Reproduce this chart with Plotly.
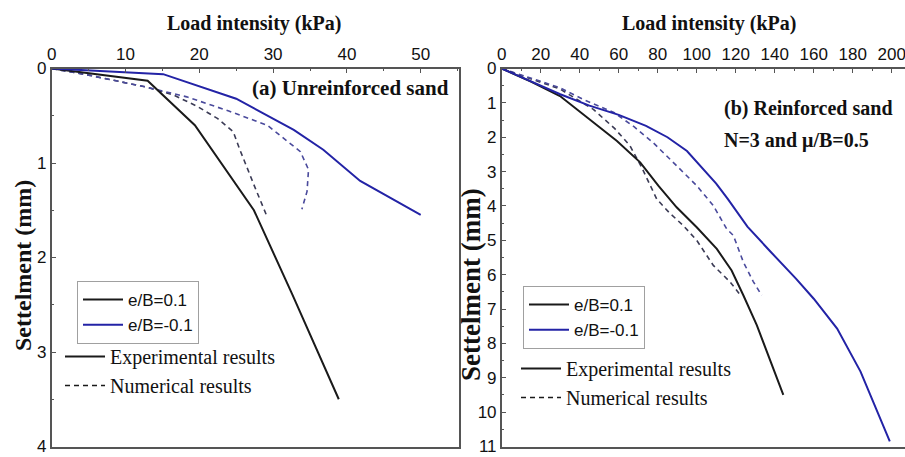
import plotly.graph_objects as go

W, H = 905, 457

# ---------------- data: (a) unreinforced sand ----------------
a_exp_pos_x = [0, 13, 19.4, 27.4, 32.6, 38.9]
a_exp_pos_y = [0, 0.13, 0.6, 1.5, 2.39, 3.5]
a_exp_neg_x = [0, 15.1, 25.0, 32.8, 36.8, 41.8, 50.0]
a_exp_neg_y = [0, 0.06, 0.32, 0.65, 0.86, 1.19, 1.55]
a_num_pos_x = [0, 5, 13, 16.5, 19.7, 22.5, 24.6, 25.5, 27.5, 29.2]
a_num_pos_y = [0, 0.07, 0.2, 0.28, 0.4, 0.53, 0.67, 0.86, 1.25, 1.57]
a_num_neg_x = [0, 5, 13, 18.3, 24.0, 29.2, 33.7, 34.8, 34.6, 33.9]
a_num_neg_y = [0, 0.07, 0.2, 0.3, 0.45, 0.6, 0.88, 1.07, 1.3, 1.49]

# ---------------- data: (b) reinforced sand ----------------
b_exp_pos_x = [0, 15, 29.9, 45.3, 59.1, 71.0, 80.3, 89.7, 100, 110.3, 117.9, 123.9, 130.8, 144.4]
b_exp_pos_y = [0, 0.38, 0.8, 1.48, 2.11, 2.73, 3.41, 4.04, 4.62, 5.25, 5.88, 6.6, 7.47, 9.5]
b_exp_neg_x = [0, 15, 30, 45, 60, 74, 85, 95, 103, 110, 116, 126, 138, 151, 160, 172, 184, 199]
b_exp_neg_y = [0, 0.38, 0.75, 1.08, 1.35, 1.67, 2.0, 2.4, 2.9, 3.35, 3.8, 4.6, 5.34, 6.12, 6.7, 7.57, 8.82, 10.85]
b_num_pos_x = [0, 15, 30, 47, 58, 65.8, 71.8, 79.5, 86, 93.1, 100, 108.5, 117.1, 122.5]
b_num_pos_y = [0, 0.3, 0.6, 1.19, 1.75, 2.25, 2.88, 3.8, 4.2, 4.57, 5.0, 5.73, 6.21, 6.6]
b_num_neg_x = [0, 15, 29.9, 41.8, 57.5, 68, 77.5, 89.7, 100, 108.5, 115.4, 118.8, 123.9, 129.0, 133.3]
b_num_neg_y = [0, 0.28, 0.56, 0.9, 1.28, 1.7, 2.15, 2.83, 3.41, 3.99, 4.67, 4.86, 5.63, 6.2, 6.6]

legend_cases = ["e/B=0.1", "e/B=-0.1"]
legend_kinds = ["Experimental results", "Numerical results"]
x_title = "Load intensity (kPa)"
y_title = "Settelment (mm)"

BLACK = "#1a1a1a"
BLUE = "#2323a6"
DBLACK = "#3b3b55"
DBLUE = "#4a4a9c"
DASH = "5px,4px"


def px(x):
    return x / W


def py(y):
    return 1 - y / H


fig = go.Figure()

# panel (a)
fig.add_trace(go.Scatter(x=a_num_pos_x, y=a_num_pos_y, mode="lines", line=dict(color=DBLACK, width=1.6, dash=DASH),
                         xaxis="x", yaxis="y", showlegend=False))
fig.add_trace(go.Scatter(x=a_num_neg_x, y=a_num_neg_y, mode="lines", line=dict(color=DBLUE, width=1.6, dash=DASH),
                         xaxis="x", yaxis="y", showlegend=False))
fig.add_trace(go.Scatter(x=a_exp_pos_x, y=a_exp_pos_y, mode="lines", line=dict(color=BLACK, width=2),
                         xaxis="x", yaxis="y", name=legend_cases[0], legend="legend"))
fig.add_trace(go.Scatter(x=a_exp_neg_x, y=a_exp_neg_y, mode="lines", line=dict(color=BLUE, width=2),
                         xaxis="x", yaxis="y", name=legend_cases[1], legend="legend"))
fig.add_trace(go.Scatter(x=[None], y=[None], mode="lines", line=dict(color=BLACK, width=2),
                         xaxis="x", yaxis="y", name=legend_kinds[0], legend="legend2"))
fig.add_trace(go.Scatter(x=[None], y=[None], mode="lines", line=dict(color=BLACK, width=1.4, dash=DASH),
                         xaxis="x", yaxis="y", name=legend_kinds[1], legend="legend2"))

# panel (b)
fig.add_trace(go.Scatter(x=b_num_pos_x, y=b_num_pos_y, mode="lines", line=dict(color=DBLACK, width=1.6, dash=DASH),
                         xaxis="x2", yaxis="y2", showlegend=False))
fig.add_trace(go.Scatter(x=b_num_neg_x, y=b_num_neg_y, mode="lines", line=dict(color=DBLUE, width=1.6, dash=DASH),
                         xaxis="x2", yaxis="y2", showlegend=False))
fig.add_trace(go.Scatter(x=b_exp_pos_x, y=b_exp_pos_y, mode="lines", line=dict(color=BLACK, width=2),
                         xaxis="x2", yaxis="y2", name=legend_cases[0], legend="legend3"))
fig.add_trace(go.Scatter(x=b_exp_neg_x, y=b_exp_neg_y, mode="lines", line=dict(color=BLUE, width=2),
                         xaxis="x2", yaxis="y2", name=legend_cases[1], legend="legend3"))
fig.add_trace(go.Scatter(x=[None], y=[None], mode="lines", line=dict(color=BLACK, width=2),
                         xaxis="x2", yaxis="y2", name=legend_kinds[0], legend="legend4"))
fig.add_trace(go.Scatter(x=[None], y=[None], mode="lines", line=dict(color=BLACK, width=1.4, dash=DASH),
                         xaxis="x2", yaxis="y2", name=legend_kinds[1], legend="legend4"))

TICKFONT = dict(family="Liberation Sans, Arial", size=17, color="#111")
AXCOL = "#555"
ydom = [py(446.5), py(68.5)]

common_x = dict(side="top", showgrid=False, zeroline=False, showline=True, linecolor=AXCOL, linewidth=1.5,
                mirror=True, ticks="inside", ticklen=5, tickcolor=AXCOL, tickwidth=1.2, tickfont=TICKFONT,
                automargin=False, ticklabeloverflow="allow")
common_y = dict(showgrid=False, zeroline=False, showline=True, linecolor=AXCOL, linewidth=1.5,
                ticks="inside", ticklen=5, tickcolor=AXCOL, tickwidth=1.2, tickfont=TICKFONT,
                automargin=False, ticklabeloverflow="allow")

fig.update_layout(
    width=W, height=H,
    margin=dict(l=0, r=0, t=0, b=0, autoexpand=False),
    paper_bgcolor="white", plot_bgcolor="white",
    xaxis=dict(domain=[px(51.7), px(458.7)], range=[0, 55.15], dtick=10, anchor="y",
               minor=dict(dtick=5, ticks="inside", ticklen=3, tickcolor=AXCOL), **common_x),
    yaxis=dict(domain=ydom, range=[4, 0], dtick=1, anchor="x", mirror=True,
               minor=dict(dtick=0.5, ticks="inside", ticklen=3, tickcolor=AXCOL), **common_y),
    xaxis2=dict(domain=[px(501.7), 1.0], range=[0, 206.8], dtick=20, anchor="y2",
                minor=dict(dtick=10, ticks="inside", ticklen=3, tickcolor=AXCOL), **common_x),
    yaxis2=dict(domain=ydom, range=[11, 0], dtick=1, anchor="x2", mirror=False,
                minor=dict(dtick=0.5, ticks="inside", ticklen=3, tickcolor=AXCOL), **common_y),
    legend=dict(x=px(77), y=py(281), xanchor="left", yanchor="top", bgcolor="white",
                bordercolor="#a0a0a0", borderwidth=1, itemwidth=40, tracegroupgap=0,
                font=dict(family="Liberation Sans, Arial", size=17, color="#111")),
    legend2=dict(x=px(60), y=py(337), xanchor="left", yanchor="top", bgcolor="rgba(0,0,0,0)",
                 borderwidth=0, itemwidth=40,
                 font=dict(family="Liberation Serif, Times New Roman", size=20, color="#111")),
    legend3=dict(x=px(523), y=py(286), xanchor="left", yanchor="top", bgcolor="white",
                 bordercolor="#a0a0a0", borderwidth=1, itemwidth=40,
                 font=dict(family="Liberation Sans, Arial", size=17, color="#111")),
    legend4=dict(x=px(516), y=py(349), xanchor="left", yanchor="top", bgcolor="rgba(0,0,0,0)",
                 borderwidth=0, itemwidth=40,
                 font=dict(family="Liberation Serif, Times New Roman", size=20, color="#111")),
)

SERIF_B = "Liberation Serif, Times New Roman"
for xc in (254, 709):
    fig.add_annotation(text="<b>%s</b>" % x_title, x=px(xc), y=py(23), xref="paper", yref="paper",
                       xanchor="center", yanchor="middle", showarrow=False,
                       font=dict(family=SERIF_B, size=20, color="#111"))

fig.add_annotation(text="<b>(a) Unreinforced sand</b>", x=px(451), y=py(88), xref="paper", yref="paper",
                   xanchor="right", yanchor="middle", showarrow=False,
                   font=dict(family=SERIF_B, size=21, color="#111"))
fig.add_annotation(text="<b>(b) Reinforced sand</b>", x=px(722), y=py(108), xref="paper", yref="paper",
                   xanchor="left", yanchor="middle", showarrow=False,
                   font=dict(family=SERIF_B, size=20, color="#111"))
fig.add_annotation(text="<b>N=3 and μ/B=0.5</b>", x=px(722), y=py(140), xref="paper", yref="paper",
                   xanchor="left", yanchor="middle", showarrow=False,
                   font=dict(family=SERIF_B, size=20, color="#111"))

fig.add_annotation(text="<b>%s</b>" % y_title, x=px(23), y=py(266), xref="paper", yref="paper",
                   xanchor="center", yanchor="middle", textangle=-90, showarrow=False,
                   font=dict(family=SERIF_B, size=24, color="#111"))
fig.add_annotation(text="<b>%s</b>" % y_title, x=px(471), y=py(285), xref="paper", yref="paper",
                   xanchor="center", yanchor="middle", textangle=-90, showarrow=False,
                   font=dict(family=SERIF_B, size=27, color="#111"))

fig.write_html("out.html", config={"displayModeBar": False},
               post_script="document.body.style.margin='0';document.body.style.overflow='hidden';")
